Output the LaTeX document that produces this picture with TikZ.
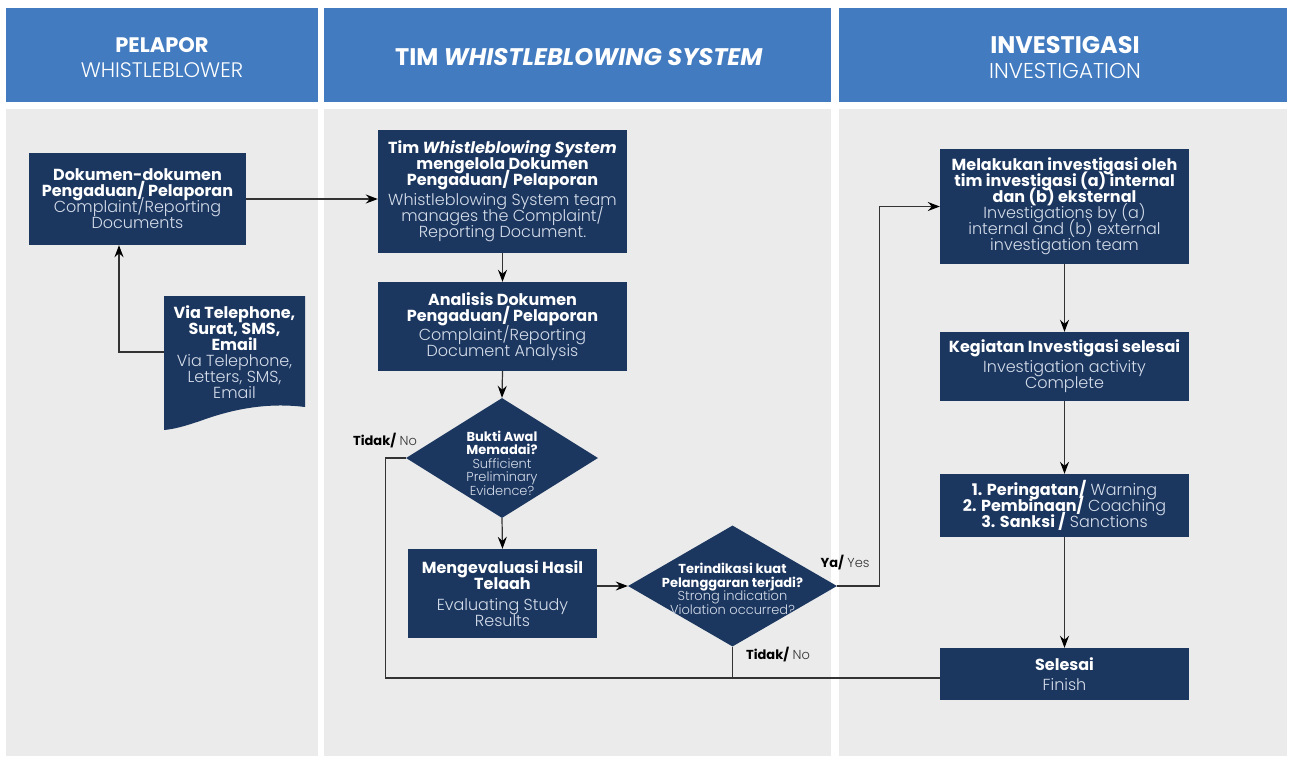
\documentclass[tikz,border=0pt]{standalone}
\usepackage{fontspec}
\setmainfont{Poppins}
\newfontfamily\poplight{Poppins Light}
\usetikzlibrary{shapes.geometric,arrows.meta}
\definecolor{navy}{HTML}{1B365F}
\definecolor{headblue}{HTML}{427BBF}
\definecolor{panel}{HTML}{EBEBEB}
\definecolor{pale}{HTML}{D5DDEA}
\definecolor{wire}{HTML}{333333}
\setlength{\lineskiplimit}{-20pt}
\newcommand{\engtext}[1]{{\poplight\color{pale}#1}}
\newcommand{\lbltext}[2]{\textbf{#1} {\poplight\color{wire}#2}}
\begin{document}
\begin{tikzpicture}[x=1pt,y=-1pt,
    box/.style={fill=navy, text=white, align=center, inner sep=0pt, font=\fontsize{16}{16}\selectfont},
    dia/.style={diamond, fill=navy, inner sep=0pt},
    dtext/.style={text=white, align=center, font=\fontsize{13}{13.5}\selectfont},
    headtext/.style={text=white, align=center, font=\fontsize{21}{25}\selectfont\bfseries},
    lbl/.style={text=black, font=\fontsize{13}{15}\selectfont},
    line/.style={draw=wire, line width=1.2pt},
    arr/.style={line, -{Stealth[length=12pt,width=9pt,inset=4pt,color=black]}}]
    \useasboundingbox (0,0) rectangle (1289,756);
    \fill[white] (0,0) rectangle (1289,756);
    % columns
    \fill[headblue] (6,8) rectangle (318,102);
    \fill[headblue] (324,8) rectangle (831,102);
    \fill[headblue] (839,8) rectangle (1287,102);
    \fill[panel] (6,109) rectangle (318,756);
    \fill[panel] (324,109) rectangle (831,756);
    \fill[panel] (839,109) rectangle (1287,756);
    \node[headtext] (hpel) at (162,57.5) {PELAPOR\\{\poplight\mdseries WHISTLEBLOWER}};
    \node[headtext, font=\fontsize{24}{25}\selectfont\bfseries] (htim) at (579,57) {TIM \textit{WHISTLEBLOWING SYSTEM}};
    \node[headtext, font=\fontsize{24}{25}\selectfont\bfseries] (hinv) at (1065,57.5) {INVESTIGASI\\{\poplight\mdseries\fontsize{21.5}{25}\selectfont INVESTIGATION}};

    % pelapor
    \node[box, minimum width=217pt, minimum height=92pt] (docs) at (137.5,199) {\textbf{Dokumen-dokumen}\\\textbf{Pengaduan/ Pelaporan}\\\engtext{Complaint/Reporting}\\\engtext{Documents}};
    \fill[navy] (164,296) -- (305,296) -- (305,407) .. controls (265,402) and (230,410) .. (200,421) .. controls (185,426) and (175,429) .. (164,430) -- cycle;
    \node[box, fill=none, minimum width=141pt] (via) at (234.5,352) {\textbf{Via Telephone,}\\\textbf{Surat, SMS,}\\\textbf{Email}\\\engtext{Via Telephone,}\\\engtext{Letters, SMS,}\\\engtext{Email}};

    % tim wbs
    \node[box, minimum width=249pt, minimum height=123pt] (tim) at (502.5,191.5) {\textbf{Tim \textit{Whistleblowing System}}\\\textbf{mengelola Dokumen}\\\textbf{Pengaduan/ Pelaporan}\\[4pt]\engtext{Whistleblowing System team}\\\engtext{manages the Complaint/}\\\engtext{Reporting Document.}};
    \node[box, minimum width=249pt, minimum height=89pt] (ana) at (502.5,326.5) {\textbf{Analisis Dokumen}\\\textbf{Pengaduan/ Pelaporan}\\[3pt]\engtext{Complaint/Reporting}\\\engtext{Document Analysis}};
    \node[dia, minimum width=192pt, minimum height=120pt,
        label={[dtext, yshift=-5pt]center:{\textbf{Bukti Awal}\\\textbf{Memadai?}\\\engtext{Sufficient}\\\engtext{Preliminary}\\\engtext{Evidence?}}}] (bukti) at (502,458) {};
    \node[box, minimum width=189pt, minimum height=89pt] (eval) at (502.5,593.5) {\textbf{Mengevaluasi Hasil}\\\textbf{Telaah}\\[5pt]\engtext{Evaluating Study}\\\engtext{Results}};
    \node[dia, minimum width=209pt, minimum height=121pt,
        label={[dtext, yshift=-3pt]center:{\textbf{Terindikasi kuat}\\\textbf{Pelanggaran terjadi?}\\\engtext{Strong indication}\\\engtext{Violation occurred?}}}] (indik) at (732.5,586) {};

    % investigasi
    \node[box, minimum width=249pt, minimum height=115pt] (inv) at (1064.5,206.5) {\textbf{Melakukan investigasi oleh}\\\textbf{tim investigasi (a) internal}\\\textbf{dan (b) eksternal}\\\engtext{Investigations by (a)}\\\engtext{internal and (b) external}\\\engtext{investigation team}};
    \node[box, minimum width=249pt, minimum height=69pt] (keg) at (1064.5,366.5) {\textbf{Kegiatan Investigasi selesai}\\[4pt]\engtext{Investigation activity}\\\engtext{Complete}};
    \node[box, minimum width=249pt, minimum height=63pt] (sank) at (1064.5,505.5) {\textbf{1. Peringatan/} \engtext{Warning}\\\textbf{2. Pembinaan/} \engtext{Coaching}\\\textbf{3. Sanksi /} \engtext{Sanctions}};
    \node[box, minimum width=249pt, minimum height=52pt] (fin) at (1064.5,674) {\textbf{Selesai}\\[4pt]\engtext{Finish}};
    \coordinate (finin) at ([yshift=-4pt]fin.west);

    % connectors
    \draw[arr] (via.west) -| ([xshift=-18.5pt]docs.south);
    \draw[arr] (docs.east) -- (docs.east -| tim.west);
    \draw[arr] (tim.south) -- (ana.north);
    \draw[arr] (ana.south) -- (bukti.north);
    \draw[arr] (bukti.south) -- (eval.north);
    \draw[arr] (eval.east |- indik.west) -- (indik.west);
    \draw[arr] (indik.east) -- ([xshift=42pt]indik.east) |- (inv.west);
    \draw[line] (bukti.west) -- ++(-20,0) |- (finin);
    \draw[line] (indik.south) -- (indik.south |- finin);
    \draw[arr] (inv.south) -- (keg.north);
    \draw[arr] (keg.south) -- (sank.north);
    \draw[arr] (sank.south) -- (fin.north);
    \node[lbl] (nobukti) at (385,441) {\lbltext{Tidak/}{No}};
    \node[lbl] (yesindik) at (845,563) {\lbltext{Ya/}{Yes}};
    \node[lbl] (noindik) at (778,655) {\lbltext{Tidak/}{No}};
\end{tikzpicture}
\end{document}
